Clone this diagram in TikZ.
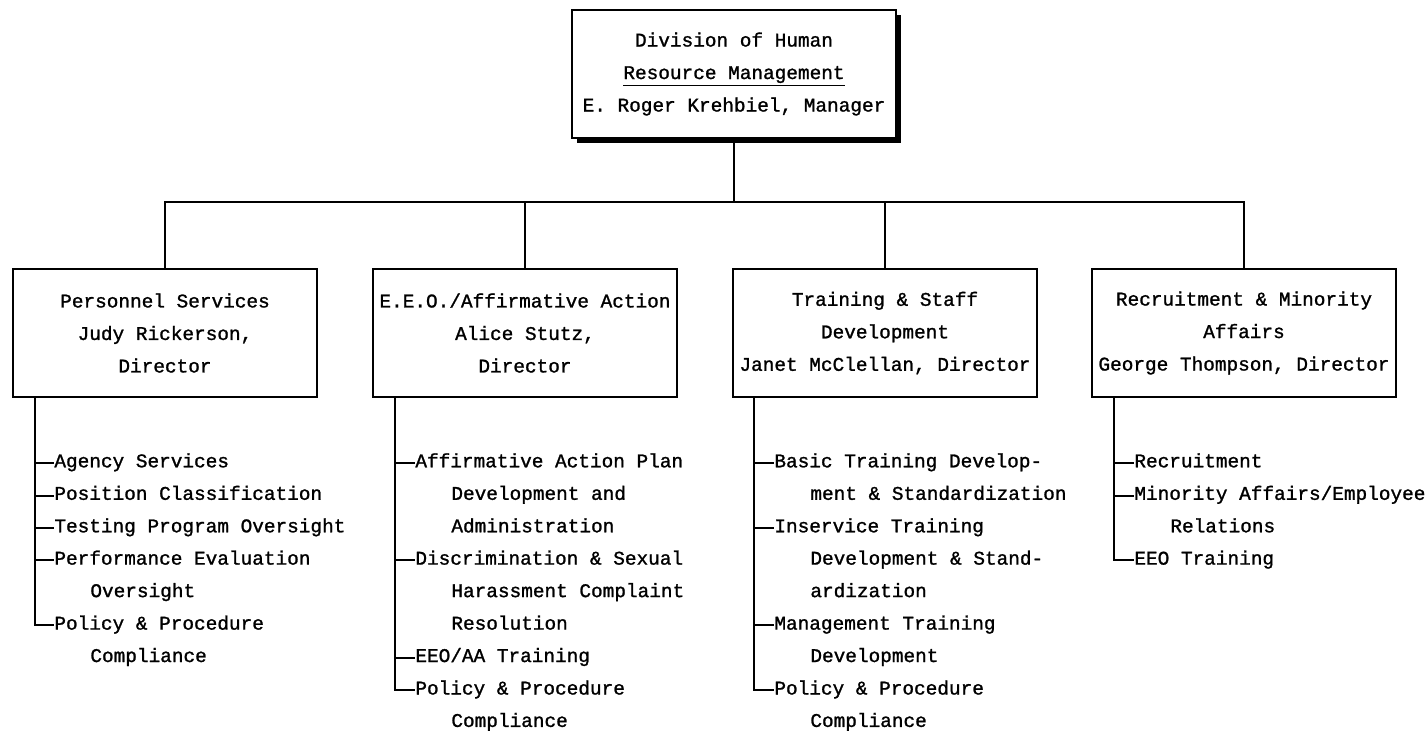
\documentclass[tikz,border=0pt]{standalone}
\usepackage{fontspec}
\newfontfamily\orgtt{Liberation Mono}[FakeBold=1.2]
\usetikzlibrary{shadows}
\newcommand{\orgfont}{\orgtt\fontsize{9.7pt}{16.25pt}\selectfont}

\begin{document}
\begin{tikzpicture}[x=0.5pt,y=-0.5pt,
    unitbox/.style={draw,line width=1pt,fill=white,align=center,font=\orgfont,minimum width=152pt,minimum height=64pt,inner sep=0pt},
    listitem/.style={anchor=mid west,inner sep=0pt,font=\orgfont},
    conn/.style={line width=1pt}]
            \useasboundingbox (0,0) rectangle (1425,730);

            \node[unitbox,minimum width=162pt,drop shadow={shadow xshift=2.5pt,shadow yshift=-2.5pt,fill=black,opacity=1}] (hrm) at (734,74) {Division of Human\\\underline{Resource Management}\\E. Roger Krehbiel, Manager};

            \node[unitbox] (pers) at (165,333) {Personnel Services\\Judy Rickerson,\\Director};
            \node[unitbox] (eeo) at (525,333) {E.E.O./Affirmative Action\\Alice Stutz,\\Director};
            \node[unitbox] (train) at (885,333) {Training \& Staff\\Development\\Janet McClellan, Director};
            \node[unitbox] (recr) at (1244,333) {Recruitment \& Minority\\Affairs\\George Thompson, Director};

            \coordinate (bus) at (734,202);
            \draw[conn] (hrm.south) -- (bus);
            \draw[conn] (pers.north) |- (bus);
            \draw[conn] (recr.north) |- (bus);
            \draw[conn] (eeo.north) -- (eeo.north |- bus);
            \draw[conn] (train.north) -- (train.north |- bus);

            % Personnel Services
            \node[listitem] (pers1) at (54,463) {Agency Services};
            \node[listitem] (pers2) at (54,495.5) {Position Classification};
            \node[listitem] (pers3) at (54,528) {Testing Program Oversight};
            \node[listitem] (pers4) at (54,560.3) {Performance Evaluation};
            \node[listitem] (pers4b) at (90,592.8) {Oversight};
            \node[listitem] (pers5) at (54,625.3) {Policy \& Procedure};
            \node[listitem] (pers5b) at (90,657.7) {Compliance};

            % E.E.O./Affirmative Action
            \node[listitem] (eeo1) at (415,463) {Affirmative Action Plan};
            \node[listitem] (eeo1b) at (451,495.5) {Development and};
            \node[listitem] (eeo1c) at (451,528) {Administration};
            \node[listitem] (eeo2) at (415,560.3) {Discrimination \& Sexual};
            \node[listitem] (eeo2b) at (451,592.8) {Harassment Complaint};
            \node[listitem] (eeo2c) at (451,625.3) {Resolution};
            \node[listitem] (eeo3) at (415,657.7) {EEO/AA Training};
            \node[listitem] (eeo4) at (415,690.2) {Policy \& Procedure};
            \node[listitem] (eeo4b) at (451,722.6) {Compliance};

            % Training & Staff Development
            \node[listitem] (train1) at (774,463) {Basic Training Develop-};
            \node[listitem] (train1b) at (810,495.5) {ment \& Standardization};
            \node[listitem] (train2) at (774,528) {Inservice Training};
            \node[listitem] (train2b) at (810,560.3) {Development \& Stand-};
            \node[listitem] (train2c) at (810,592.8) {ardization};
            \node[listitem] (train3) at (774,625.3) {Management Training};
            \node[listitem] (train3b) at (810,657.7) {Development};
            \node[listitem] (train4) at (774,690.2) {Policy \& Procedure};
            \node[listitem] (train4b) at (810,722.6) {Compliance};

            % Recruitment & Minority Affairs
            \node[listitem] (recr1) at (1134,463) {Recruitment};
            \node[listitem] (recr2) at (1134,495.5) {Minority Affairs/Employee};
            \node[listitem] (recr2b) at (1170,528) {Relations};
            \node[listitem] (recr3) at (1134,560.3) {EEO Training};

            \coordinate (persspine) at ([xshift=11.5pt]pers.south west);
            \coordinate (eeospine) at ([xshift=11.5pt]eeo.south west);
            \coordinate (trainspine) at ([xshift=11pt]train.south west);
            \coordinate (recrspine) at ([xshift=11.5pt]recr.south west);

            \draw[conn] (persspine) |- (pers5.mid west);
            \draw[conn] (persspine |- pers1.mid west) -- (pers1.mid west);
            \draw[conn] (persspine |- pers2.mid west) -- (pers2.mid west);
            \draw[conn] (persspine |- pers3.mid west) -- (pers3.mid west);
            \draw[conn] (persspine |- pers4.mid west) -- (pers4.mid west);

            \draw[conn] (eeospine) |- (eeo4.mid west);
            \draw[conn] (eeospine |- eeo1.mid west) -- (eeo1.mid west);
            \draw[conn] (eeospine |- eeo2.mid west) -- (eeo2.mid west);
            \draw[conn] (eeospine |- eeo3.mid west) -- (eeo3.mid west);

            \draw[conn] (trainspine) |- (train4.mid west);
            \draw[conn] (trainspine |- train1.mid west) -- (train1.mid west);
            \draw[conn] (trainspine |- train2.mid west) -- (train2.mid west);
            \draw[conn] (trainspine |- train3.mid west) -- (train3.mid west);

            \draw[conn] (recrspine) |- (recr3.mid west);
            \draw[conn] (recrspine |- recr1.mid west) -- (recr1.mid west);
            \draw[conn] (recrspine |- recr2.mid west) -- (recr2.mid west);
        \end{tikzpicture}
\end{document}
